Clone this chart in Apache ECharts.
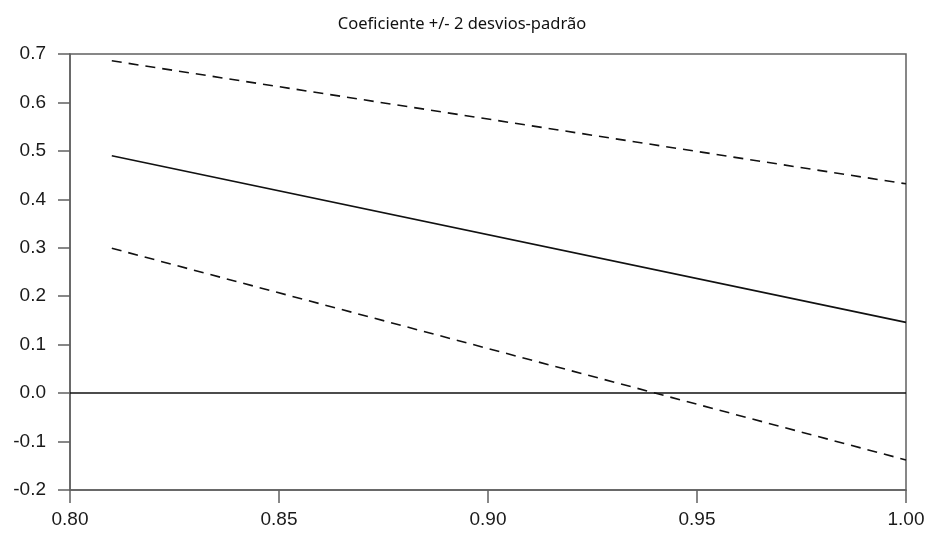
<!DOCTYPE html>
<html>
<head>
<meta charset="utf-8">
<script src="https://cdn.jsdelivr.net/npm/echarts@6/dist/echarts.min.js"></script>
<style>html,body{margin:0;padding:0;background:#fff;}#c{width:928px;height:535px;}</style>
</head>
<body>
<div id="c"></div>
<script>
var titleText = 'Coeficiente +/- 2 desvios-padrão';
var xValues = [0.81, 1.00];
var coef = [0.490, 0.146];
var upper = [0.686, 0.432];
var lower = [0.299, -0.138];
var xTicks = [0.80, 0.85, 0.90, 0.95, 1.00];
var yTicks = [-0.2, -0.1, 0.0, 0.1, 0.2, 0.3, 0.4, 0.5, 0.6, 0.7];

function pairs(xs, ys){ return xs.map(function(x,i){ return [x, ys[i]]; }); }

var chart = echarts.init(document.getElementById('c'), null, {renderer:'canvas'});
var axisCol = '#606060';
var lblFont = {color:'#1a1a1a', fontSize:19, fontFamily:'Liberation Sans, Arial, sans-serif'};
chart.setOption({
  animation:false,
  backgroundColor:'#fff',
  title:{text:titleText, left:457, top:11, textAlign:'center',
    textStyle:{fontSize:16.5, fontWeight:'normal', color:'#111', fontFamily:'Noto Sans, sans-serif'}},
  grid:{left:70, right:22, top:54, bottom:45, show:true, borderColor:axisCol, borderWidth:1.5},
  xAxis:{type:'value', min:0.8, max:1.0, interval:0.05,
    axisLine:{show:true, onZero:false, lineStyle:{color:axisCol, width:1.5}},
    axisTick:{show:true, inside:false, length:13, lineStyle:{color:axisCol, width:1.5}},
    splitLine:{show:false},
    axisLabel:Object.assign({margin:20, formatter:function(v){return v.toFixed(2);}}, lblFont)},
  yAxis:{type:'value', min:-0.2, max:0.7, interval:0.1,
    axisLine:{show:true, onZero:false, lineStyle:{color:axisCol, width:1.5}},
    axisTick:{show:true, inside:false, length:12, lineStyle:{color:axisCol, width:1.5}},
    splitLine:{show:false},
    axisLabel:Object.assign({margin:24, formatter:function(v){return v.toFixed(1);}}, lblFont)},
  series:[
    {type:'line', data:pairs(xValues, coef), symbol:'none', lineStyle:{color:'#111', width:1.6},
     markLine:{silent:true, symbol:'none', label:{show:false}, lineStyle:{color:'#111', width:1.5, type:'solid'}, data:[{yAxis:0}]}},
    {type:'line', data:pairs(xValues, upper), symbol:'none', lineStyle:{color:'#111', width:1.6, type:[10,7]}},
    {type:'line', data:pairs(xValues, lower), symbol:'none', lineStyle:{color:'#111', width:1.6, type:[10,7]}}
  ]
});
</script>
</body>
</html>
